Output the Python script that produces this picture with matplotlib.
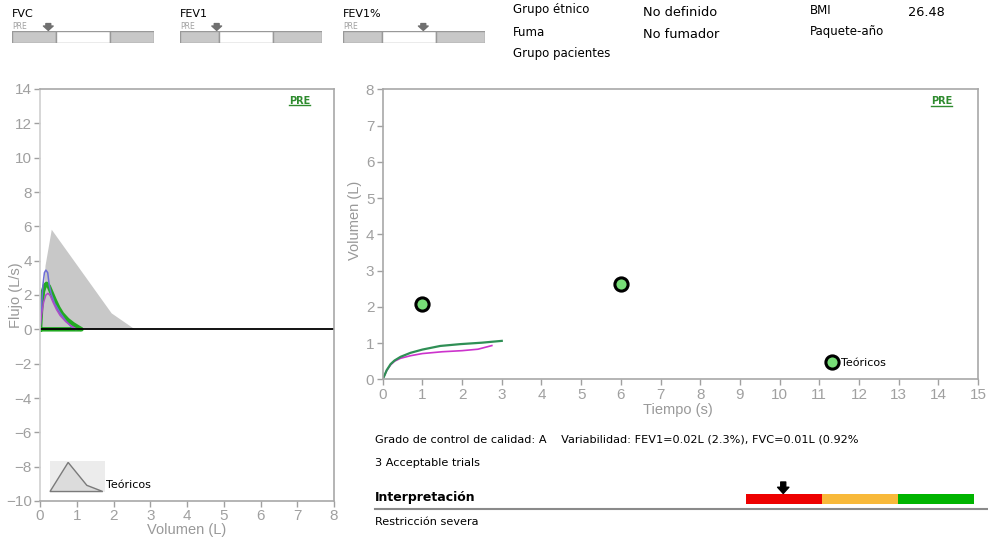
import numpy as np
import matplotlib.pyplot as plt
from matplotlib.legend_handler import HandlerBase
from matplotlib.patches import Rectangle, Polygon
from matplotlib.lines import Line2D

plt.rcParams['font.family'] = 'Liberation Sans'

# flujo-volumen: teorico (area gris) y tres maniobras
theo_vol = [0.05, 0.15, 0.32, 1.95, 2.58]
theo_flow = [0.0, 3.7, 5.8, 0.93, 0.0]

blue_vol = [0, 0.03, 0.08, 0.12, 0.16, 0.21, 0.25, 0.3, 0.4, 0.55, 0.7, 0.82, 0.9, 0.96]
blue_flow = [0, 1.0, 2.6, 3.3, 3.45, 3.3, 2.6, 2.1, 1.5, 0.95, 0.5, 0.22, 0.08, 0]

green_vol = [0, 0.03, 0.08, 0.13, 0.18, 0.24, 0.3, 0.4, 0.5, 0.6, 0.75, 0.9, 1.05, 1.13, 0]
green_flow = [0, 1.2, 2.2, 2.55, 2.65, 2.5, 2.2, 1.7, 1.25, 0.9, 0.55, 0.3, 0.1, 0, 0]

purple_vol = [0, 0.04, 0.1, 0.16, 0.22, 0.28, 0.35, 0.45, 0.55, 0.7, 0.85, 0.95, 1.0]
purple_flow = [0, 0.8, 1.6, 2.0, 2.1, 1.95, 1.6, 1.15, 0.8, 0.45, 0.2, 0.07, 0]

# volumen-tiempo
green_t = [0, 0.05, 0.1, 0.2, 0.3, 0.45, 0.7, 1.0, 1.45, 1.95, 2.5, 3.0]
green_v = [0, 0.12, 0.25, 0.42, 0.52, 0.62, 0.73, 0.82, 0.92, 0.97, 1.01, 1.06]
mag_t = [0, 0.05, 0.1, 0.2, 0.3, 0.45, 0.7, 1.0, 1.5, 2.0, 2.4, 2.75]
mag_v = [0, 0.12, 0.24, 0.4, 0.5, 0.58, 0.65, 0.71, 0.76, 0.79, 0.83, 0.93]
pred_t = [1, 6]
pred_v = [2.08, 2.63]

# barras de referencia superiores (escala 0-142)
bar_names = ['FVC', 'FEV1', 'FEV1%']
bar_lln = [43.5, 38.7, 38.7]
bar_uln = [97.7, 93.0, 92.7]
bar_val = [36.0, 36.4, 80.0]
bar_max = 142.0

sev_colors = ['#ee0000', '#f8b93a', '#00b400']
sev_val = 0.49

W, H = 988, 543


def px_rect(x0, y0, x1, y1):
    return [x0 / W, 1 - y1 / H, (x1 - x0) / W, (y1 - y0) / H]


def ftext(x, y, s, **kw):
    kw.setdefault('va', 'center')
    kw.setdefault('family', 'DejaVu Sans')
    fig.text(x / W, 1 - y / H, s, **kw)


class TheoHandler(HandlerBase):
    def create_artists(self, legend, orig_handle, xdescent, ydescent,
                       width, height, fontsize, trans):
        x0 = -xdescent
        y0 = -3.3
        hh = 22.3
        bg = Rectangle((x0, y0), width, hh, facecolor='#ececec',
                       edgecolor='none', transform=trans)
        shape = [(0.0, 0.03), (0.33, 0.97), (0.67, 0.23), (0.96, 0.03)]
        tri = Polygon([(x0 + a * width, y0 + b * hh) for a, b in shape],
                      closed=True, facecolor='#dcdcdc', edgecolor='#7a7a7a',
                      lw=1, transform=trans)
        return [bg, tri]


fig = plt.figure(figsize=(9.88, 5.43), dpi=100)

# ---- flujo / volumen ----
ax1 = fig.add_axes(px_rect(40, 89, 334, 501))
th = ax1.fill(theo_vol, theo_flow, color='#c8c8c8', lw=0)[0]
ax1.plot(green_vol, green_flow, color='#22aa22', lw=3.2, solid_joinstyle='round')
ax1.plot(blue_vol, blue_flow, color='#6d6dd6', lw=1.1)
ax1.plot(purple_vol, purple_flow, color='#b04ac8', lw=1.1)
ax1.axhline(0, color='black', lw=1.3)
ax1.set_xlim(0, 8)
ax1.set_ylim(-10, 14)
ax1.set_xticks(range(0, 9))
ax1.set_yticks(range(-10, 15, 2))
ax1.set_xlabel('Volumen (L)', fontsize=10.5, color='#999999')
ax1.xaxis.set_label_coords(0.5, -0.053)
ax1.set_ylabel('Flujo (L/s)', fontsize=10.5, color='#999999')
ax1.yaxis.set_label_coords(-0.058, 0.5)
leg1 = ax1.legend([th], ['Teóricos'], handler_map={th: TheoHandler()},
                  loc='lower left', bbox_to_anchor=(0.034, 0.027),
                  frameon=False, borderpad=0, borderaxespad=0,
                  handlelength=4.95, handletextpad=0.05,
                  prop={'family': 'DejaVu Sans', 'size': 8})
ax1.text(0.847, 0.972, 'PRE', transform=ax1.transAxes, color='#2e8b2e',
         fontsize=7, fontweight='bold', family='DejaVu Sans', va='center')
ax1.plot([0.847, 0.918], [0.96, 0.96], transform=ax1.transAxes,
         color='#2e8b2e', lw=1)

# ---- volumen / tiempo ----
ax2 = fig.add_axes(px_rect(382.7, 89.3, 978, 379.3))
ax2.plot(mag_t, mag_v, color='#cc33cc', lw=1.2)
ax2.plot(green_t, green_v, color='#2f8f55', lw=1.6)
ax2.plot(pred_t, pred_v, 'o', ms=9.5, mfc='#77dd77', mec='black', mew=2.2,
         label='Teóricos', clip_on=False)
ax2.set_xlim(0, 15)
ax2.set_ylim(0, 8)
ax2.set_xticks(range(0, 16))
ax2.set_yticks(range(0, 9))
ax2.set_xlabel('Tiempo (s)', fontsize=10.5, color='#999999')
ax2.xaxis.set_label_coords(0.496, -0.082)
ax2.set_ylabel('Volumen (L)', fontsize=10.5, color='#999999')
ax2.yaxis.set_label_coords(-0.035, 0.549)
ax2.legend(loc='center left', bbox_to_anchor=(0.7455, 0.057), frameon=False,
           borderpad=0, borderaxespad=0, handlelength=1.0, handletextpad=0.3,
           prop={'family': 'DejaVu Sans', 'size': 8})
ax2.text(0.921, 0.961, 'PRE', transform=ax2.transAxes, color='#2e8b2e',
         fontsize=7, fontweight='bold', family='DejaVu Sans', va='center')
ax2.plot([0.921, 0.956], [0.944, 0.944], transform=ax2.transAxes,
         color='#2e8b2e', lw=1)

for ax in (ax1, ax2):
    ax.tick_params(colors='#a0a0a0', labelsize=11, length=4, width=1, pad=2)
    for s in ax.spines.values():
        s.set_color('#a8a8a8')
        s.set_linewidth(1.2)
ax1.spines['left'].set_color('#cfcfcf')

# ---- barras superiores ----
bar_x0 = [12.3, 180.3, 343.3]
arrow_style = 'simple,head_length=0.45,head_width=1.0,tail_width=0.5'
for name, x0, lln, uln, val in zip(bar_names, bar_x0, bar_lln, bar_uln, bar_val):
    bx = fig.add_axes(px_rect(x0, 31, x0 + bar_max, 43))
    bx.barh(0.5, [lln, uln - lln, bar_max - uln], left=[0, lln, uln], height=1,
            color=['#c8c8c8', 'white', '#c8c8c8'], edgecolor='#999999', lw=1)
    bx.set_xlim(0, bar_max)
    bx.set_ylim(0, 1)
    bx.axis('off')
    bx.annotate('', xy=(val, 1.05), xytext=(val, 1.62), annotation_clip=False,
                arrowprops=dict(arrowstyle=arrow_style, color='#707070',
                                shrinkA=0, shrinkB=0, mutation_scale=7))
    bx.text(0, 1.35, 'PRE', fontsize=5.5, color='#a0a0a0', family='DejaVu Sans',
            va='center', ha='left')
    ftext(x0, 14, name, fontsize=8)

# ---- datos del paciente ----
ftext(513, 10, 'Grupo étnico', fontsize=8.5)
ftext(643, 12.5, 'No definido', fontsize=9.3)
ftext(810, 10, 'BMI', fontsize=8.5)
ftext(908, 12.5, '26.48', fontsize=9.3)
ftext(513, 32, 'Fuma', fontsize=8.5)
ftext(643, 34, 'No fumador', fontsize=9.3)
ftext(810, 32, 'Paquete-año', fontsize=8.5)
ftext(513, 54, 'Grupo pacientes', fontsize=8.5)

# ---- calidad / interpretacion ----
ftext(375, 440, 'Grado de control de calidad: A    Variabilidad: FEV1=0.02L (2.3%), FVC=0.01L (0.92%',
      fontsize=8.15)
ftext(375, 463, '3 Acceptable trials', fontsize=8.15)
ftext(375, 497, 'Interpretación', fontsize=9, fontweight='bold')
ftext(375, 522, 'Restricción severa', fontsize=8.15)
fig.add_artist(Line2D([375 / W, 1], [1 - 509 / H, 1 - 509 / H], color='#8a8a8a', lw=1.5))

sx = fig.add_axes(px_rect(746, 494, 974, 504))
sx.barh(0.5, [1, 1, 1], left=[0, 1, 2], height=1, color=sev_colors)
sx.set_xlim(0, 3)
sx.set_ylim(0, 1)
sx.axis('off')
sx.annotate('', xy=(sev_val, 1.05), xytext=(sev_val, 2.2), annotation_clip=False,
            arrowprops=dict(arrowstyle='simple,head_length=0.5,head_width=0.9,tail_width=0.4',
                            color='black', shrinkA=0, shrinkB=0, mutation_scale=9))

fig.savefig('out.png', dpi=100)
